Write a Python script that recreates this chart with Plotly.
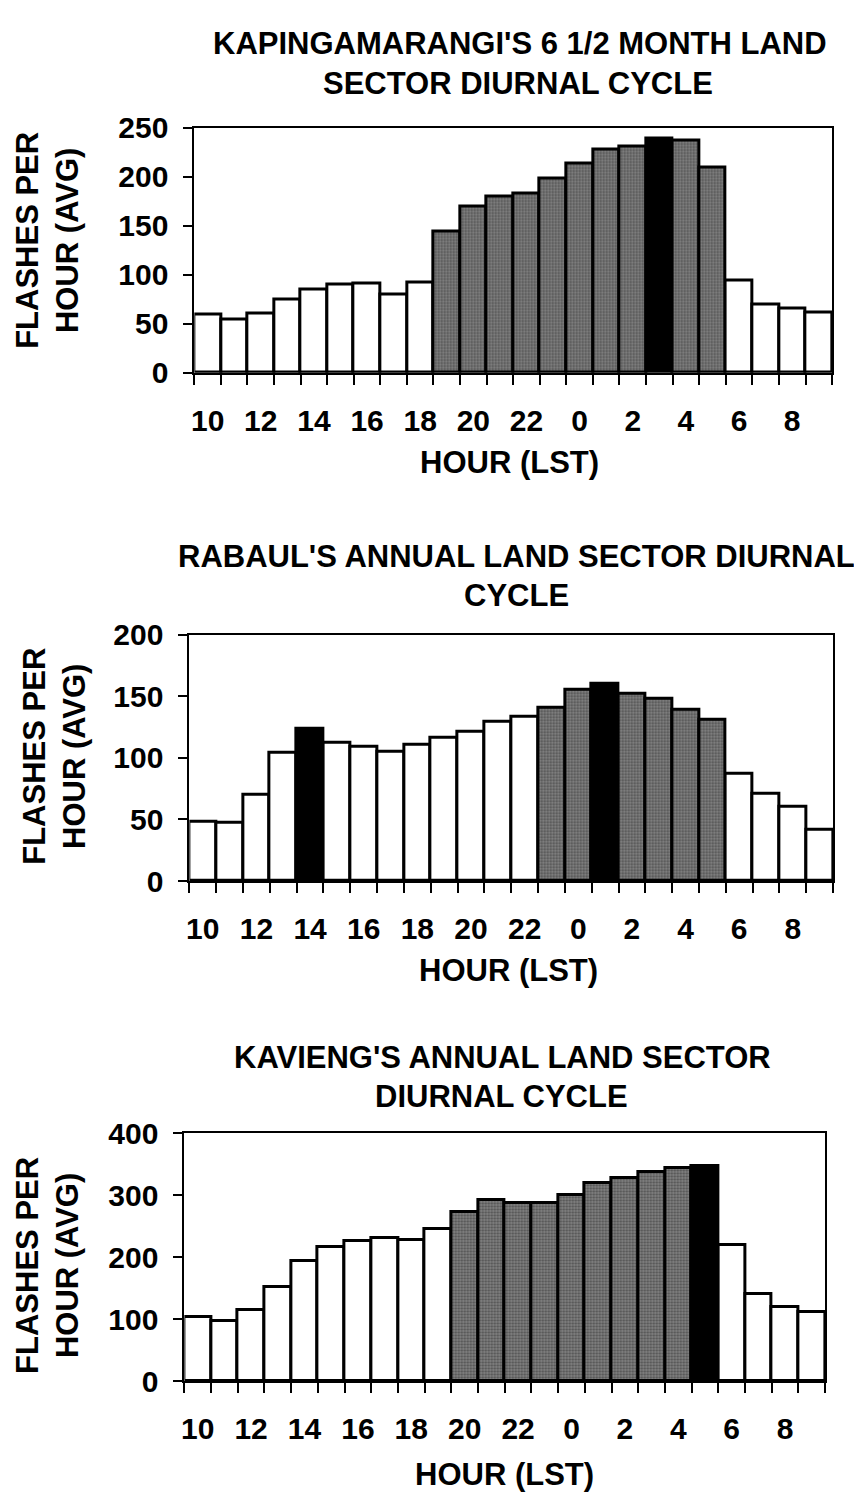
"""
Three lightning diurnal-cycle bar charts (land sector), stacked vertically.
White bars = day, stippled grey = night, black = peak hour.
"""
import plotly.graph_objects as go

PAGE_W, PAGE_H = 862, 1505
PAD = 8                      # default body margin of the html page
W, H = PAGE_W - 2 * PAD, PAGE_H - 2 * PAD
FONT = "Liberation Sans, Arial, Helvetica, sans-serif"

# hour of day (LST) for each bar, starting at 10 LST
HOURS = [10, 11, 12, 13, 14, 15, 16, 17, 18, 19, 20, 21,
         22, 23, 0, 1, 2, 3, 4, 5, 6, 7, 8, 9]

# --- Kapingamarangi, 6 1/2 months ---
KAPINGA_TITLE = ["KAPINGAMARANGI'S 6 1/2 MONTH LAND", "SECTOR DIURNAL CYCLE"]
KAPINGA_FLASHES = [59, 54, 60, 75, 85, 90, 91, 80, 92, 144, 169, 180,
                   183, 198, 213, 228, 231, 239, 237, 209, 94, 70, 66, 61]
KAPINGA_NIGHT = [19, 20, 21, 22, 23, 0, 1, 2, 4, 5]
KAPINGA_PEAK = [3]

# --- Rabaul, annual ---
RABAUL_TITLE = ["RABAUL'S ANNUAL LAND SECTOR DIURNAL", "CYCLE"]
RABAUL_FLASHES = [48, 47, 70, 104, 124, 112, 109, 105, 111, 116, 121, 129,
                  133, 141, 155, 160, 152, 148, 139, 131, 87, 71, 60, 42]
RABAUL_NIGHT = [23, 0, 2, 3, 4, 5]
RABAUL_PEAK = [14, 1]

# --- Kavieng, annual ---
KAVIENG_TITLE = ["KAVIENG'S ANNUAL LAND SECTOR", "DIURNAL CYCLE"]
KAVIENG_FLASHES = [103, 97, 114, 152, 194, 216, 226, 230, 227, 245, 272, 292,
                   288, 288, 300, 320, 328, 337, 344, 347, 220, 141, 120, 112]
KAVIENG_NIGHT = [20, 21, 22, 23, 0, 1, 2, 3, 4]
KAVIENG_PEAK = [5]

Y_TITLE = "FLASHES PER<br>HOUR (AVG)"
X_TITLE = "HOUR (LST)"

# panel geometry in page pixels: plot frame, title lines, axis label centres
PANELS = [
    dict(title=KAPINGA_TITLE, values=KAPINGA_FLASHES, night=KAPINGA_NIGHT,
         peak=KAPINGA_PEAK, ymax=250, dtick=50,
         frame=(192, 832, 113, 364), title_xy=[(519, 27), (517, 68)],
         ytitle_xy=(45, 228), xtitle_xy=(508, 456)),
    dict(title=RABAUL_TITLE, values=RABAUL_FLASHES, night=RABAUL_NIGHT,
         peak=RABAUL_PEAK, ymax=200, dtick=50,
         frame=(187, 833, 632, 884), title_xy=[(515, 552), (515, 592)],
         ytitle_xy=(52, 756), xtitle_xy=(507, 976)),
    dict(title=KAVIENG_TITLE, values=KAVIENG_FLASHES, night=KAVIENG_NIGHT,
         peak=KAVIENG_PEAK, ymax=400, dtick=100,
         frame=(182, 825, 1142, 1396), title_xy=[(501, 1065), (500, 1105)],
         ytitle_xy=(44, 1277), xtitle_xy=(503, 1491)),
]

WHITE = "#ffffff"
BLACK = "#000000"


def px(x):
    return (x - PAD) / W


def py(y):
    return 1 - (y - PAD) / H


fig = go.Figure()
annotations = []
positions = list(range(len(HOURS)))
boundaries = [p - 0.5 for p in range(len(HOURS) + 1)]
label_font = dict(family=FONT, size=31, color=BLACK, weight="bold")
tick_font = dict(family=FONT, size=30, color=BLACK, weight="bold")

for i, p in enumerate(PANELS, start=1):
    xa = "x" if i == 1 else f"x{i}"
    ya = "y" if i == 1 else f"y{i}"

    groups = {"day": [], "night": [], "peak": []}
    for pos, hr, v in zip(positions, HOURS, p["values"]):
        key = "peak" if hr in p["peak"] else ("night" if hr in p["night"] else "day")
        groups[key].append((pos, v))

    styles = {
        "day": dict(color=WHITE),
        "night": dict(color="#666666",
                      pattern=dict(shape=".", fgcolor="#1a1a1a", bgcolor="#858585",
                                   size=3, solidity=0.45, fillmode="overlay")),
        "peak": dict(color=BLACK),
    }
    for key, pts in groups.items():
        if not pts:
            continue
        fig.add_trace(go.Bar(
            x=[q[0] for q in pts], y=[q[1] for q in pts], width=1,
            marker=dict(**styles[key], line=dict(color=BLACK, width=3)),
            xaxis=xa, yaxis=ya, showlegend=False, hoverinfo="skip",
        ))

    x0, x1, y0, y1 = p["frame"]
    xdom = [px(x0), px(x1)]
    ydom = [py(y1), py(y0)]

    fig.update_layout({
        f"xaxis{'' if i == 1 else i}": dict(
            domain=xdom, anchor=ya, range=[-0.5, len(HOURS) - 0.5],
            tickmode="array", tickvals=positions[::2],
            ticktext=[str(h) for h in HOURS[::2]],
            ticks="", ticklabelstandoff=20, tickfont=tick_font,
            showgrid=False, zeroline=False,
            showline=True, linecolor=BLACK, linewidth=2, mirror=True,
            minor=dict(tickmode="array", tickvals=boundaries, ticks="outside",
                       ticklen=10, tickwidth=1.5, tickcolor=BLACK, showgrid=False),
        ),
        f"yaxis{'' if i == 1 else i}": dict(
            domain=ydom, anchor=xa, range=[0, p["ymax"]], dtick=p["dtick"],
            ticks="outside", ticklen=9, tickwidth=1.5, tickcolor=BLACK,
            ticklabelstandoff=9, tickfont=tick_font,
            showgrid=False, zeroline=False,
            showline=True, linecolor=BLACK, linewidth=2, mirror=True,
        ),
        # inner half of the cross tick marks
        f"yaxis{i + 3}": dict(
            domain=ydom, anchor=xa, overlaying=ya, range=[0, p["ymax"]],
            dtick=p["dtick"], ticks="inside", ticklen=9, tickwidth=1.5,
            tickcolor=BLACK, showticklabels=False, showgrid=False,
            zeroline=False, showline=False,
        ),
    })

    for line, (tx, ty) in zip(p["title"], p["title_xy"]):
        annotations.append(dict(text=line, x=px(tx), y=py(ty),
                                xref="paper", yref="paper", showarrow=False,
                                xanchor="center", yanchor="middle", font=label_font))
    tx, ty = p["ytitle_xy"]
    annotations.append(dict(text=Y_TITLE, x=px(tx), y=py(ty), textangle=-90,
                            xref="paper", yref="paper", showarrow=False,
                            xanchor="center", yanchor="middle", font=label_font))
    tx, ty = p["xtitle_xy"]
    annotations.append(dict(text=X_TITLE, x=px(tx), y=py(ty),
                            xref="paper", yref="paper", showarrow=False,
                            xanchor="center", yanchor="middle", font=label_font))

fig.update_layout(
    width=W, height=H,
    margin=dict(l=0, r=0, t=0, b=0),
    paper_bgcolor="white", plot_bgcolor="white",
    bargap=0, barmode="overlay",
    annotations=annotations,
    font=dict(family=FONT, color=BLACK),
)

fig.write_html("out.html")
